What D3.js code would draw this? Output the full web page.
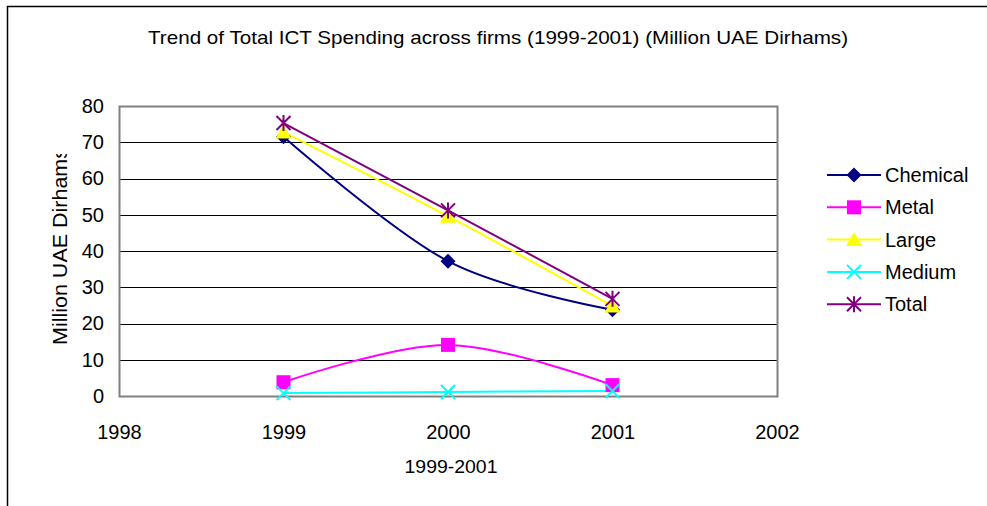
<!DOCTYPE html>
<html>
<head>
<meta charset="utf-8">
<script src="https://cdn.jsdelivr.net/npm/d3@7"></script>
<style>
  body { margin: 0; background: #fff; }
  svg { display: block; font-family: Arial, "Liberation Sans", sans-serif; }
</style>
</head>
<body>
<svg id="chart" width="987" height="506"></svg>
<script>
// values
const years = [1999, 2000, 2001];
const xTicks = [1998, 1999, 2000, 2001, 2002];
const yTicks = [0, 10, 20, 30, 40, 50, 60, 70, 80];

const chemical = [71.5, 37.2, 23.8];
const metal = [3.8, 14.1, 3.0];
const large = [72.8, 49.6, 24.8];
const medium = [0.8, 1.1, 1.4];
const total = [75.3, 51.2, 26.8];

const seriesNames = ['Chemical', 'Metal', 'Large', 'Medium', 'Total'];
const seriesValues = [chemical, metal, large, medium, total];
const seriesColors = ['#000080', '#ff00ff', '#ffff00', '#00ffff', '#800080'];
const seriesMarkers = ['diamond', 'square', 'triangle', 'x', 'star'];

const svg = d3.select('#chart');

// frame of the whole chart area (right and bottom edges lie outside the window)
svg.append('path')
    .attr('d', 'M7.5,510V6.5H990')
    .attr('fill', 'none')
    .attr('stroke', '#000')
    .attr('stroke-width', 1.5);

const plot = {left: 119, top: 106, right: 777, bottom: 396};

const x = d3.scaleLinear()
    .domain([1998, 2002])
    .range([plot.left, plot.right]);

const y = d3.scaleLinear()
    .domain([0, 80])
    .range([plot.bottom, plot.top]);

// gridlines
svg.append('g')
    .selectAll('line')
    .data(yTicks.filter(t => t > 0 && t < 80))
    .join('line')
    .attr('x1', plot.left)
    .attr('x2', plot.right)
    .attr('y1', d => Math.round(y(d)) + 0.5)
    .attr('y2', d => Math.round(y(d)) + 0.5)
    .attr('stroke', '#000')
    .attr('stroke-width', 1);

// plot border
svg.append('rect')
    .attr('x', plot.left + 0.5)
    .attr('y', plot.top + 0.5)
    .attr('width', plot.right - plot.left)
    .attr('height', plot.bottom - plot.top)
    .attr('fill', 'none')
    .attr('stroke', '#808080')
    .attr('stroke-width', 2);

// axes, drawn with d3 but trimmed to look like the original
svg.append('g')
    .attr('transform', `translate(${plot.left},0)`)
    .call(d3.axisLeft(y).tickValues(yTicks).tickSize(0).tickPadding(15))
    .call(g => g.select('.domain').remove())
    .call(g => g.selectAll('text')
        .attr('font-size', 20)
        .attr('font-family', 'Arial, "Liberation Sans", sans-serif')
        .attr('fill', '#000'));

svg.append('g')
    .attr('transform', `translate(0,${plot.bottom})`)
    .call(d3.axisBottom(x).tickValues(xTicks).tickFormat(d3.format('d')).tickSize(0).tickPadding(29))
    .call(g => g.select('.domain').remove())
    .call(g => g.selectAll('text')
        .attr('font-size', 20)
        .attr('font-family', 'Arial, "Liberation Sans", sans-serif')
        .attr('fill', '#000'));

// title
svg.append('text')
    .attr('x', 498)
    .attr('y', 44)
    .attr('text-anchor', 'middle')
    .attr('font-size', 19)
    .attr('textLength', 700)
    .attr('lengthAdjust', 'spacingAndGlyphs')
    .text('Trend of Total ICT Spending across firms (1999-2001) (Million UAE Dirhams)');

// x axis title
svg.append('text')
    .attr('x', 451)
    .attr('y', 473)
    .attr('text-anchor', 'middle')
    .attr('font-size', 19)
    .attr('textLength', 93)
    .attr('lengthAdjust', 'spacingAndGlyphs')
    .text('1999-2001');

// y axis title, clipped at the top like in the original
svg.append('clipPath')
    .attr('id', 'ytitle-clip')
    .append('rect')
    .attr('x', 30).attr('y', 154).attr('width', 60).attr('height', 300);

svg.append('g')
    .attr('clip-path', 'url(#ytitle-clip)')
    .append('text')
    .attr('transform', 'translate(67,345) rotate(-90)')
    .attr('text-anchor', 'start')
    .attr('font-size', 21)
    .attr('textLength', 197)
    .attr('lengthAdjust', 'spacingAndGlyphs')
    .text('Million UAE Dirhams');

// markers
function drawMarker(g, type, color) {
    if (type === 'diamond') {
        g.append('path').attr('d', 'M0,-7.5L7.5,0L0,7.5L-7.5,0Z').attr('fill', color);
    } else if (type === 'square') {
        g.append('rect').attr('x', -7).attr('y', -7).attr('width', 14).attr('height', 14).attr('fill', color);
    } else if (type === 'triangle') {
        g.append('path').attr('d', 'M0,-7.5L8,6.5L-8,6.5Z').attr('fill', color);
    } else if (type === 'x') {
        g.append('path').attr('d', 'M-7,-7L7,7M-7,7L7,-7')
            .attr('stroke', color).attr('stroke-width', 2).attr('fill', 'none');
    } else if (type === 'star') {
        g.append('path').attr('d', 'M-7,-7L7,7M-7,7L7,-7M0,-8V8')
            .attr('stroke', color).attr('stroke-width', 2).attr('fill', 'none');
    }
}

const line = d3.line()
    .x((d, i) => x(years[i]))
    .y(d => y(d))
    .curve(d3.curveCatmullRom.alpha(0));

const seriesG = svg.append('g');
seriesValues.forEach((vals, s) => {
    seriesG.append('path')
        .datum(vals)
        .attr('d', line)
        .attr('fill', 'none')
        .attr('stroke', seriesColors[s])
        .attr('stroke-width', 2);
});
seriesValues.forEach((vals, s) => {
    vals.forEach((v, i) => {
        const g = seriesG.append('g')
            .attr('transform', `translate(${x(years[i])},${y(v)})`);
        drawMarker(g, seriesMarkers[s], seriesColors[s]);
    });
});

// legend
const legend = svg.append('g')
    .attr('transform', 'translate(827,175)');
seriesNames.forEach((name, s) => {
    const row = legend.append('g')
        .attr('transform', `translate(0,${s * 32.3})`);
    row.append('line')
        .attr('x1', 0).attr('x2', 54)
        .attr('stroke', seriesColors[s])
        .attr('stroke-width', 2);
    drawMarker(row.append('g').attr('transform', 'translate(27,0)'), seriesMarkers[s], seriesColors[s]);
    row.append('text')
        .attr('x', 58)
        .attr('y', 7)
        .attr('font-size', 20)
        .text(name);
});
</script>
</body>
</html>
